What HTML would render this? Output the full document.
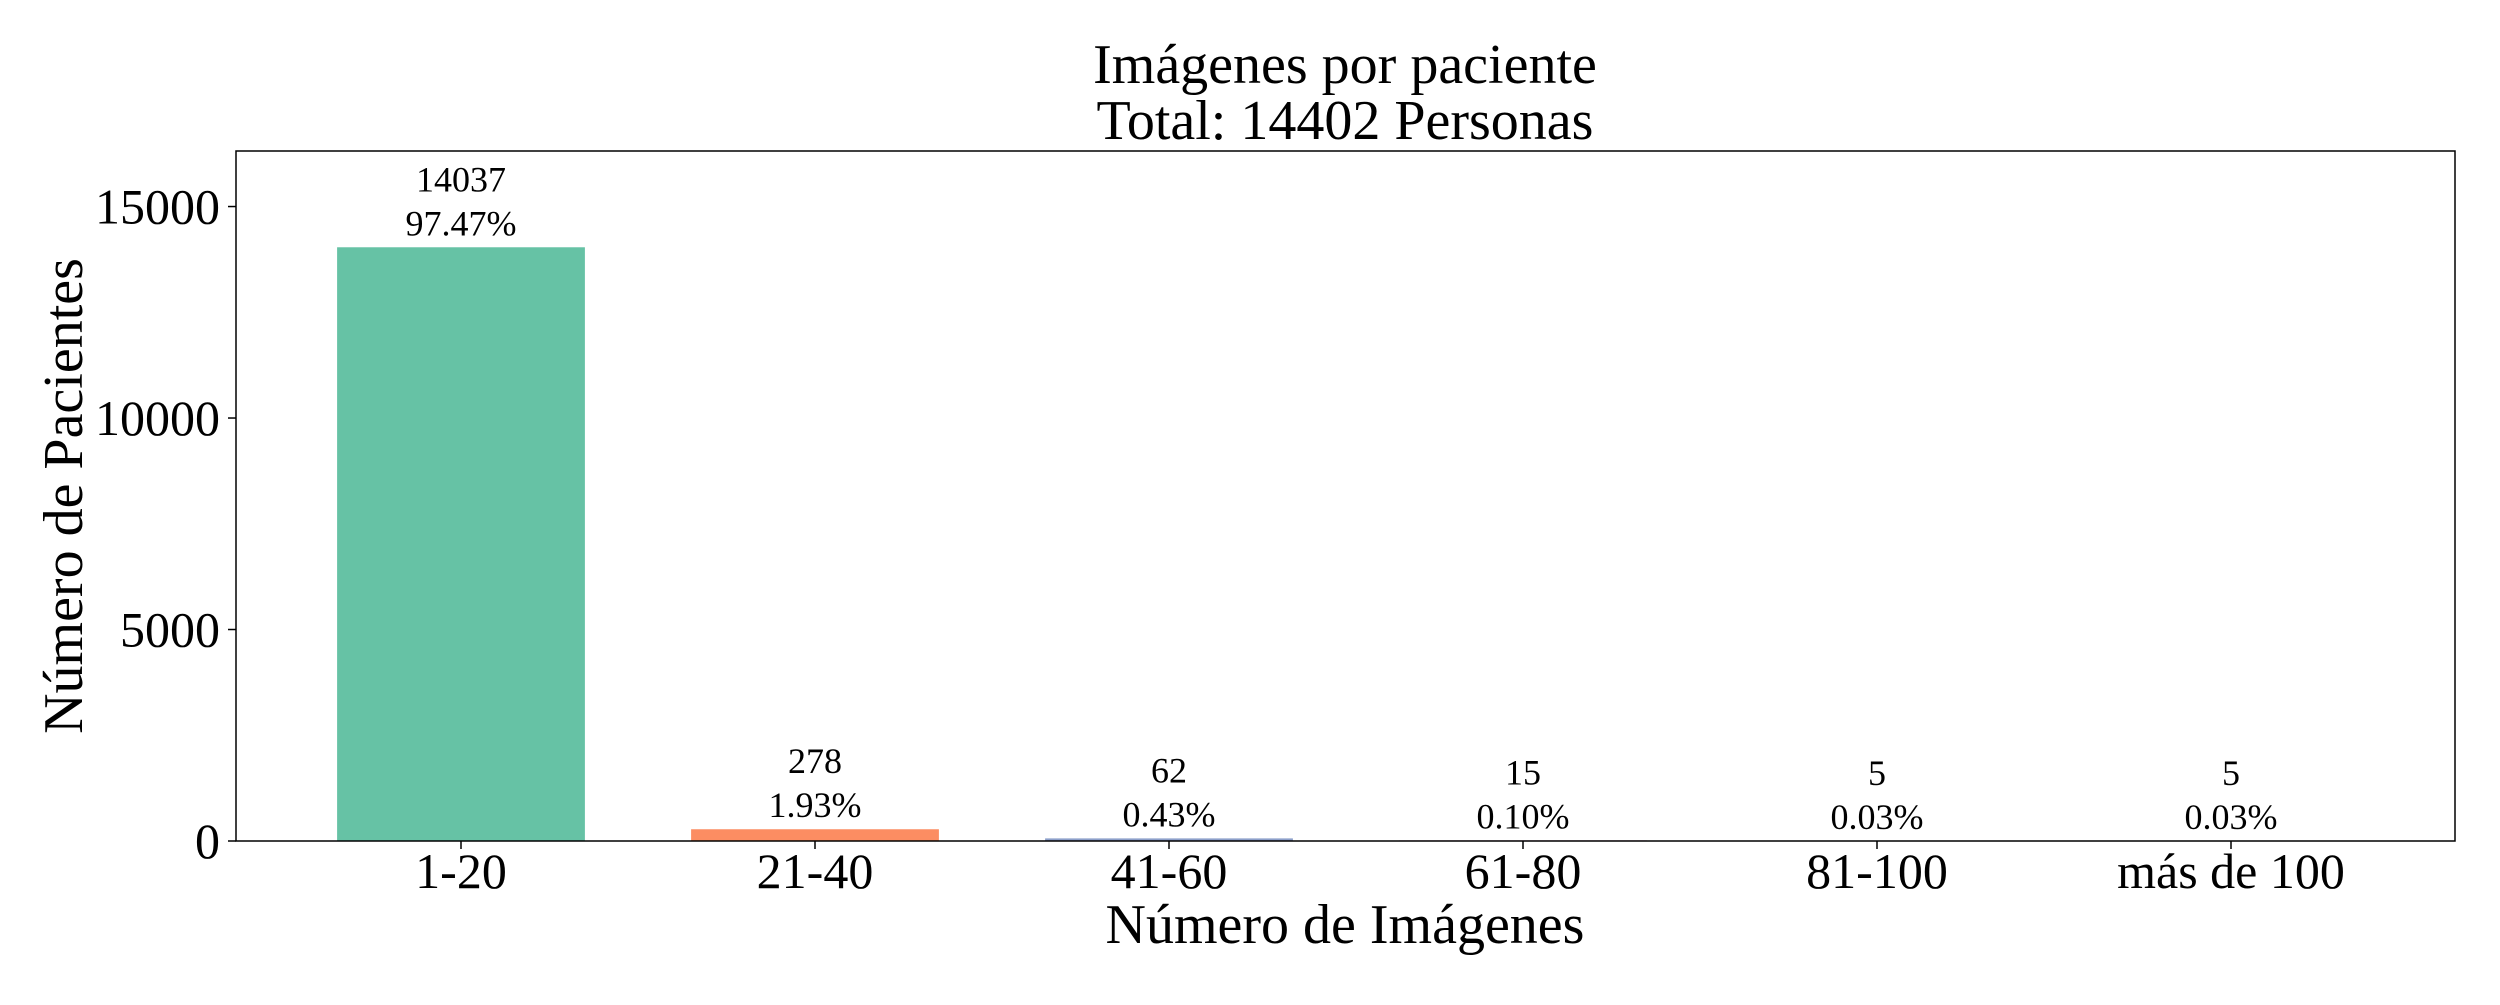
<!DOCTYPE html>
<html><head><meta charset="utf-8"><style>
body{margin:0;background:#fff;font-family:"Liberation Serif","DejaVu Serif",serif}
svg, svg text{font-family:"Liberation Serif","DejaVu Serif",serif;fill:#000}
</style></head><body>
<svg id="chart" width="2500" height="1000" xmlns="http://www.w3.org/2000/svg" font-family="Liberation Serif, DejaVu Serif, serif">
<text x="1345" y="83" font-size="56" text-anchor="middle">Imágenes por paciente</text>
<text x="1345" y="139" font-size="56" text-anchor="middle">Total: 14402 Personas</text>
<g id="marks"></g>
<rect x="236" y="151" width="2219" height="690" fill="none" stroke="#000" stroke-width="1.5"/>
<text x="1345" y="943" font-size="56" text-anchor="middle">Número de Imágenes</text>
<text transform="translate(82,496) rotate(-90)" font-size="56" text-anchor="middle">Número de Pacientes</text>
</svg>
<script>
const categories=["1-20","21-40","41-60","61-80","81-100","más de 100"];
const counts=[14037,278,62,15,5,5];
const percents=["97.47%","1.93%","0.43%","0.10%","0.03%","0.03%"];
const yTicks=[0,5000,10000,15000];
const colors=["#66c2a5","#fc8d62","#8da0cb","#e78ac3","#a6d854","#ffd92f"];
const L=236,R=2455,T=151,B=841,YMAX=16313;
const step=354,first=461;
const x=i=>first+i*step;
const y=v=>B-(v/YMAX)*(B-T);
const NS="http://www.w3.org/2000/svg";
const g=document.getElementById('marks');
function mk(t,a){const e=document.createElementNS(NS,t);for(const k in a)e.setAttribute(k,a[k]);g.appendChild(e);return e;}
const bw=step*0.7;
categories.forEach((c,i)=>{
  const r=mk('rect',{x:x(i)-bw/2,y:y(counts[i]),width:bw,height:B-y(counts[i]),fill:colors[i]});
  
  
  const t1=mk('text',{x:x(i),y:y(counts[i])-56,'font-size':36,'text-anchor':'middle'});t1.textContent=counts[i];
  
  
  const t2=mk('text',{x:x(i),y:y(counts[i])-12,'font-size':36,'text-anchor':'middle'});t2.textContent=percents[i];
  
  
  const tk=mk('line',{x1:x(i),x2:x(i),y1:B,y2:B+8,stroke:'#000','stroke-width':1.5});
  
  
  const tl=mk('text',{x:x(i),y:888,'font-size':50,'text-anchor':'middle'});tl.textContent=c;
  
  
});
yTicks.forEach(v=>{
  const tk=mk('line',{x1:L-8,x2:L,y1:y(v),y2:y(v),stroke:'#000','stroke-width':1.5});
  
  
  const tl=mk('text',{x:220,y:y(v)+17,'font-size':50,'text-anchor':'end'});tl.textContent=v;
  
  
});
</script>
</body></html>
